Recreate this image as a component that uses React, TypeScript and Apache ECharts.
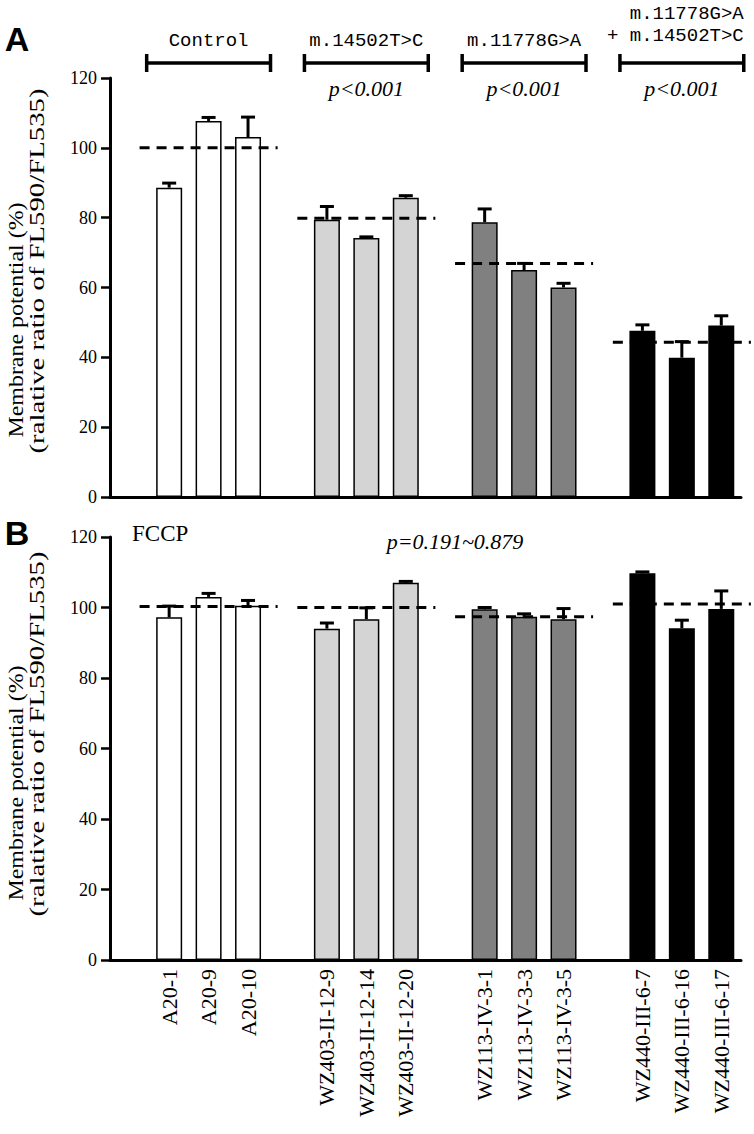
import React, { useEffect, useRef } from "react";
import * as echarts from "echarts";

const sampleNames = [
  "A20-1", "A20-9", "A20-10",
  "WZ403-II-12-9", "WZ403-II-12-14", "WZ403-II-12-20",
  "WZ113-IV-3-1", "WZ113-IV-3-3", "WZ113-IV-3-5",
  "WZ440-III-6-7", "WZ440-III-6-16", "WZ440-III-6-17",
];
const groupColors = ["#ffffff", "#d4d4d4", "#808080", "#000000"];
const groupTitles = ["Control", "m.14502T>C", "m.11778G>A", "m.11778G>A|+ m.14502T>C"];
const pValuesA = ["", "p<0.001", "p<0.001", "p<0.001"];
const pValueB = "p=0.191~0.879";
const panelBNote = "FCCP";

const valuesA = [88.6, 107.7, 103.1, 79.4, 74.2, 85.7, 78.7, 65.0, 60.0, 47.6, 39.9, 49.1];
const errorsA = [1.3, 1.0, 5.7, 3.8, 0.3, 0.6, 3.8, 1.9, 1.2, 1.7, 4.6, 2.8];
const meansA = [100, 79.8, 66.9, 44.3];

const valuesB = [97.2, 103.0, 100.5, 94.0, 96.7, 107.0, 99.5, 97.4, 96.7, 109.7, 94.1, 99.6];
const errorsB = [3.2, 1.0, 1.5, 1.6, 3.2, 0.4, 0.5, 0.8, 3.0, 0.4, 2.3, 5.1];
const meansB = [100.3, 100, 97.4, 101];

const yMin = 0;
const yMax = 120;
const yStep = 20;
const yTitle1 = "Membrane potential (%)";
const yTitle2 = "(ralative ratio of FL590/FL535)";

const GROUP = 3;
const nGroups = groupTitles.length;
// slot layout: a leading empty slot, then groups separated by one empty slot
const slotOf = (i: number) => 1 + Math.floor(i / GROUP) * (GROUP + 1) + (i % GROUP);
const nSlots = 1 + nGroups * (GROUP + 1) - 1;
const categories: string[] = [];
for (let s = 0; s < nSlots; s++) categories.push(" ".repeat(s + 1));
sampleNames.forEach((n, i) => (categories[slotOf(i)] = n));

const SERIF = "'Liberation Serif', 'Times New Roman', serif";
const MONO = "'Liberation Mono', 'DejaVu Sans Mono', monospace";

function barData(values: number[]) {
  const d: any[] = categories.map(() => "-");
  values.forEach((v, i) => {
    d[slotOf(i)] = { value: v, itemStyle: { color: groupColors[Math.floor(i / GROUP)] } };
  });
  return d;
}
function errData(values: number[], errs: number[]) {
  return values.map((v, i) => [slotOf(i), v, errs[i]]);
}
function meanData(means: number[]) {
  return means.map((m, g) => [slotOf(g * GROUP), slotOf(g * GROUP + GROUP - 1), m]);
}

const errRender = (params: any, api: any) => {
  const x = api.value(0);
  const v = api.value(1);
  const e = api.value(2);
  const base = api.coord([x, v]);
  const top = api.coord([x, v + e]);
  const cap = 7;
  return {
    type: "group",
    children: [
      { type: "line", shape: { x1: base[0], y1: base[1], x2: top[0], y2: top[1] }, style: { stroke: "#000", lineWidth: 3 } },
      { type: "line", shape: { x1: top[0] - cap, y1: top[1], x2: top[0] + cap, y2: top[1] }, style: { stroke: "#000", lineWidth: 3 } },
    ],
  };
};
const meanRender = (params: any, api: any) => {
  const p1 = api.coord([api.value(0), api.value(2)]);
  const p2 = api.coord([api.value(1), api.value(2)]);
  const band = api.size([1, 0])[0];
  return {
    type: "line",
    shape: { x1: p1[0] - 0.75 * band, y1: p1[1], x2: p2[0] + 0.75 * band, y2: p2[1] },
    style: { stroke: "#000", lineWidth: 3, lineDash: [10, 7] },
  };
};

function xAxis(gridIndex: number, showLabels: boolean) {
  return {
    type: "category",
    gridIndex,
    data: categories,
    axisLine: { show: true, lineStyle: { color: "#000", width: 3 } },
    axisTick: { show: false },
    axisLabel: {
      show: showLabels,
      interval: 0,
      rotate: 90,
      margin: 9,
      fontSize: 22,
      fontFamily: SERIF,
      color: "#000",
      formatter: (v: string) => v.trim(),
    },
  };
}
function yAxis(gridIndex: number) {
  return {
    type: "value",
    gridIndex,
    min: yMin,
    max: yMax,
    interval: yStep,
    axisLine: { show: true, lineStyle: { color: "#000", width: 3 } },
    axisTick: { show: true, length: 9, lineStyle: { color: "#000", width: 2.5 } },
    axisLabel: { fontSize: 18, fontFamily: SERIF, color: "#000", margin: 13 },
    splitLine: { show: false },
  };
}
function panelSeries(idx: number, values: number[], errs: number[], means: number[]) {
  return [
    {
      type: "bar",
      xAxisIndex: idx,
      yAxisIndex: idx,
      data: barData(values),
      barWidth: 26,
      itemStyle: { borderColor: "#000", borderWidth: 1.5 },
      z: 2,
    },
    {
      type: "custom",
      xAxisIndex: idx,
      yAxisIndex: idx,
      renderItem: meanRender,
      encode: { x: [0, 1], y: 2 },
      data: meanData(means),
      z: 3,
    },
    {
      type: "custom",
      xAxisIndex: idx,
      yAxisIndex: idx,
      renderItem: errRender,
      encode: { x: 0, y: 1 },
      data: errData(values, errs),
      z: 4,
    },
  ];
}

const GRID_A = { left: 110, top: 78, width: 631, height: 419 };
const GRID_B = { left: 110, top: 537, width: 631, height: 423 };

export default function App() {
  const ref = useRef<HTMLDivElement>(null);
  useEffect(() => {
    if (!ref.current) return;
    const chart = echarts.init(ref.current, null, { renderer: "svg" });
    chart.setOption({
      animation: false,
      backgroundColor: "#fff",
      grid: [GRID_A, GRID_B],
      xAxis: [xAxis(0, false), xAxis(1, true)],
      yAxis: [yAxis(0), yAxis(1)],
      series: [...panelSeries(0, valuesA, errorsA, meansA), ...panelSeries(1, valuesB, errorsB, meansB)],
    });

    const px = (slot: number) => chart.convertToPixel({ xAxisIndex: 0 }, categories[slot]) as number;
    const band = px(2) - px(1);
    const graphics: any[] = [];
    const bracketY = GRID_A.top - 15;
    const labelFont = `19px ${MONO}`;
    for (let g = 0; g < nGroups; g++) {
      const c = px(slotOf(g * GROUP + 1));
      const hw = band * 1.57;
      const ls = { stroke: "#000", lineWidth: 3.5 };
      graphics.push({ type: "line", shape: { x1: c - hw, y1: bracketY, x2: c + hw, y2: bracketY }, style: ls });
      graphics.push({ type: "line", shape: { x1: c - hw, y1: bracketY - 9, x2: c - hw, y2: bracketY + 9 }, style: ls });
      graphics.push({ type: "line", shape: { x1: c + hw, y1: bracketY - 9, x2: c + hw, y2: bracketY + 9 }, style: ls });
      const lines = groupTitles[g].split("|");
      if (lines.length === 1) {
        graphics.push({
          type: "text", x: c, y: bracketY - 22,
          style: { text: lines[0], font: labelFont, fill: "#000", textAlign: "center", textVerticalAlign: "middle" },
        });
      } else {
        graphics.push({
          type: "text", x: c + hw, y: bracketY - 49,
          style: { text: lines[0], font: labelFont, fill: "#000", textAlign: "right", textVerticalAlign: "middle" },
        });
        graphics.push({
          type: "text", x: c + hw, y: bracketY - 27,
          style: { text: lines[1], font: labelFont, fill: "#000", textAlign: "right", textVerticalAlign: "middle" },
        });
      }
      if (pValuesA[g]) {
        graphics.push({
          type: "text", x: c, y: bracketY + 25,
          style: { text: pValuesA[g], font: `italic 22px ${SERIF}`, fill: "#000", textAlign: "center", textVerticalAlign: "middle" },
        });
      }
    }
    graphics.push({ type: "text", x: 17, y: 39, style: { text: "A", font: `bold 34px 'Liberation Sans', Arial, sans-serif`, fill: "#000", textAlign: "center", textVerticalAlign: "middle" } });
    graphics.push({ type: "text", x: 17, y: 533, style: { text: "B", font: `bold 34px 'Liberation Sans', Arial, sans-serif`, fill: "#000", textAlign: "center", textVerticalAlign: "middle" } });
    graphics.push({ type: "text", x: GRID_B.left + 22, y: GRID_B.top - 4, style: { text: panelBNote, font: `23px ${SERIF}`, fill: "#000", textAlign: "left", textVerticalAlign: "middle" } });
    graphics.push({ type: "text", x: 455, y: GRID_B.top + 4, style: { text: pValueB, font: `italic 22px ${SERIF}`, fill: "#000", textAlign: "center", textVerticalAlign: "middle" } });

    [GRID_A, GRID_B].forEach((gr) => {
      const bottom = gr.top + gr.height;
      graphics.push({
        type: "text", x: 16, y: bottom - 177, rotation: Math.PI / 2, scaleX: 1.14,
        style: { text: yTitle1, font: `21px ${SERIF}`, fill: "#000", textAlign: "center", textVerticalAlign: "middle" },
      });
      graphics.push({
        type: "text", x: 37, y: bottom - 226, rotation: Math.PI / 2, scaleX: 1.37,
        style: { text: yTitle2, font: `21px ${SERIF}`, fill: "#000", textAlign: "center", textVerticalAlign: "middle" },
      });
    });
    chart.setOption({ graphic: graphics });
    return () => chart.dispose();
  }, []);
  return <div ref={ref} style={{ position: "absolute", left: 0, top: 0, width: 754, height: 1134 }} />;
}
